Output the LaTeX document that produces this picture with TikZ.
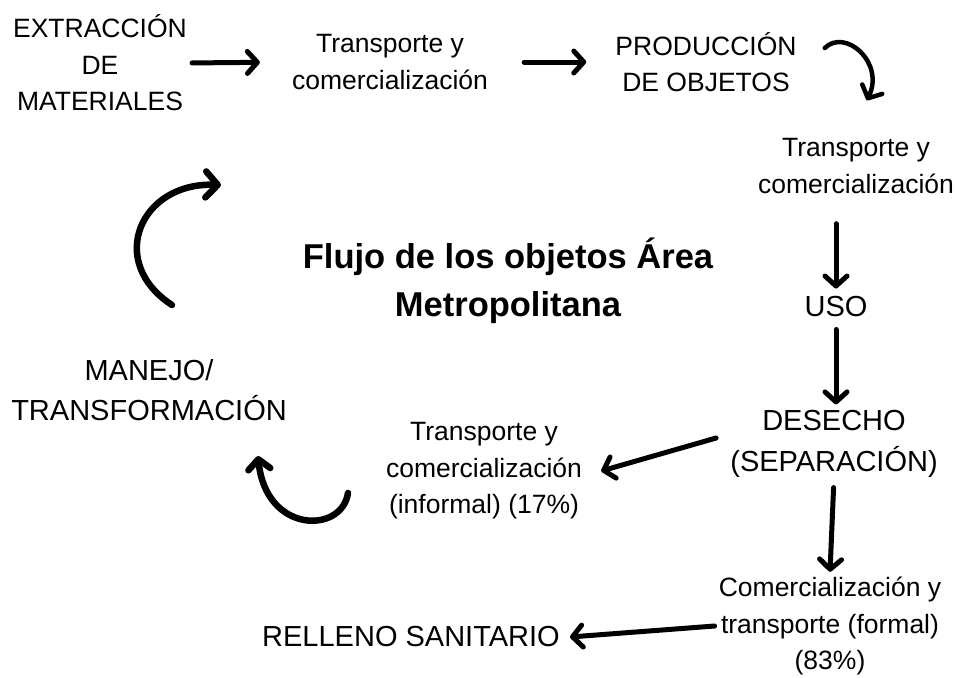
\documentclass[tikz,border=0pt]{standalone}
\usepackage{fontspec}
\setmainfont{Liberation Sans}
\usetikzlibrary{arrows.meta}
\begin{document}
\begin{tikzpicture}[x=1pt,y=-1pt,
  lbl/.style={align=center,inner sep=0pt,font=\fontsize{26.5}{36.5}\selectfont},
  big/.style={align=center,inner sep=0pt,font=\fontsize{29}{40.5}\selectfont},
  ttl/.style={align=center,inner sep=0pt,font=\fontsize{34.5}{48}\selectfont\bfseries},
  arr/.style={line width=5pt,line cap=round,line join=round,
    -{Straight Barb[length=10pt,width=22pt,line cap=round,line join=round]}},
  carr/.style={arr,line width=6.5pt},
]
\fill[white] (0,0) rectangle (957,677);
\useasboundingbox (0,0) rectangle (957,677);
\node[lbl] (extr) at (100,63) {EXTRACCIÓN\\DE\\MATERIALES};
\node[lbl] (t1) at (390,62) {Transporte y\\comercialización};
\node[lbl] (prod) at (706,62) {PRODUCCIÓN\\DE OBJETOS};
\node[lbl] (t2) at (856,166) {Transporte y\\comercialización};
\node[big] (uso) at (836,307) {USO};
\node[big] (des) at (834,444) {DESECHO\\(SEPARACIÓN)};
\node[lbl] (t3) at (484,471) {Transporte y\\comercialización\\(informal) (17\%)};
\node[big] (man) at (149,390) {MANEJO/\\TRANSFORMACIÓN};
\node[lbl] (t4) at (830,626) {Comercialización y\\transporte (formal)\\(83\%)};
\node[big] (rel) at (411,637) {RELLENO SANITARIO};
\node[ttl] (title) at (508,281) {Flujo de los objetos Área\\Metropolitana};

\coordinate (c1s) at (348,493);
\coordinate (c1e) at (258,456);
\coordinate (c2s) at (172,305);
\coordinate (c2e) at (221,185);

\draw[arr,shorten <=5pt,shorten >=32pt] (extr.east) -- (t1.west);
\draw[arr,shorten <=36pt,shorten >=29pt] (t1.east) -- (prod.west);
\draw[arr,line width=4.5pt] ([shift={(28,-14)}]prod.east) .. controls (845,28) and (885,62) .. ([shift={(11,-38)}]t2.north);
\draw[arr,shorten <=30pt,shorten >=8pt] (t2.south -| uso.north) -- (uso.north);
\draw[arr,shorten <=12pt,shorten >=6pt] (uso.south) -- (des.north -| uso.south);
\draw[arr] ([shift={(-14,-6)}]des.west) -- ([shift={(19,0)}]t3.east);
\draw[carr] (c1s) .. controls (342,534) and (266,534) .. (c1e);
\draw[carr,-{Straight Barb[length=12pt,width=26pt,line cap=round,line join=round]}] (c2s) .. controls (106,262) and (140,182) .. (c2e);
\draw[arr,shorten <=10pt] (des.south) -- ([yshift=5pt]t4.north);
\draw[arr] ([shift={(-4,0)}]t4.west) -- ([shift={(10,0)}]rel.east);
\end{tikzpicture}
\end{document}
